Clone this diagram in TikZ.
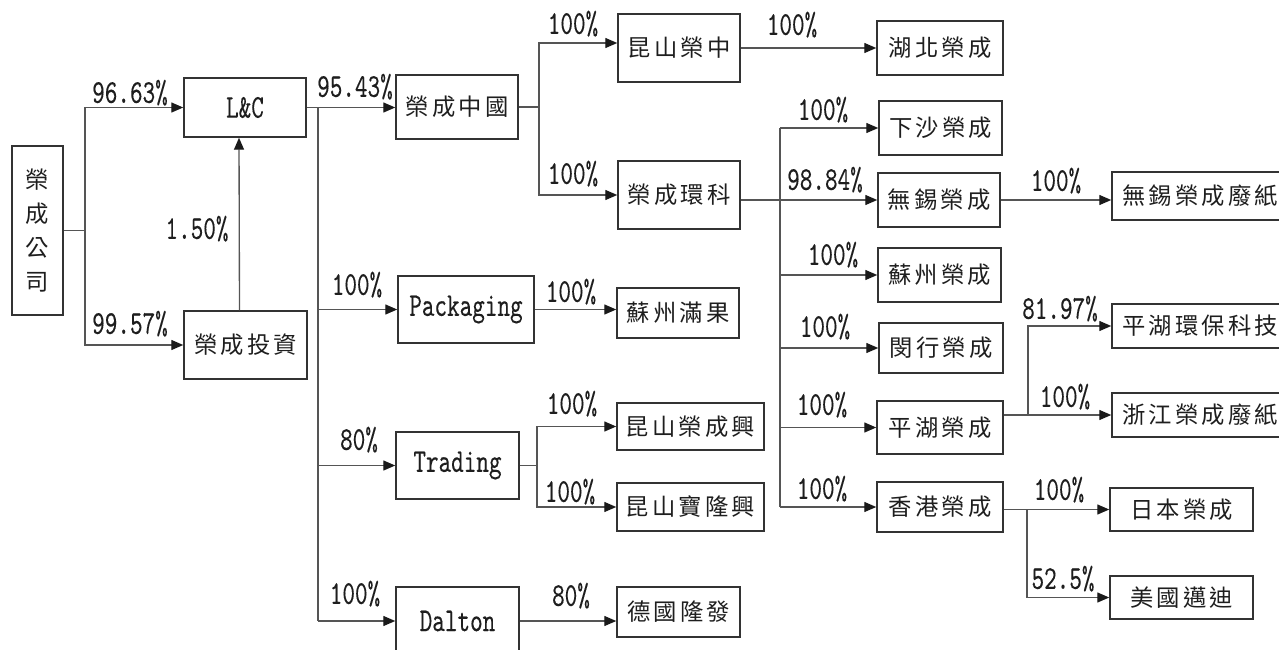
\documentclass[tikz,border=0pt]{standalone}
\usepackage{fontspec}
\usetikzlibrary{arrows.meta}
\newfontfamily\cjk{Noto Sans CJK TC}
\newfontfamily\lat{lmmono10-regular}[Extension=.otf,FakeStretch=0.72,FakeBold=0.15]
\definecolor{boxc}{HTML}{333333}
\definecolor{linec}{HTML}{555555}
\definecolor{tipc}{HTML}{1A1A1A}
\definecolor{txtc}{HTML}{1E1E1E}
\makeatletter
\def\sptext#1{\sptext@i#1\relax}
\def\sptext@i#1#2{#1\ifx\relax#2\else\kern2.4pt\expandafter\sptext@i\expandafter#2\fi}
\makeatother
\tikzset{
  box/.style={draw=boxc, line width=1.1pt, inner sep=0pt, align=center, text=txtc},
  cj/.style={font=\cjk\fontsize{17.5}{20}\selectfont},
  lt/.style={font=\lat\fontsize{25}{27}\selectfont},
  ln/.style={draw=linec, line width=1pt},
  arr/.style={ln, -{Triangle[length=9pt,width=7.5pt,color=tipc]}},
  pct/.style={lt, inner sep=0pt, text=txtc, yshift=2.5pt}
}
\newcommand\cbx[6]{\node[box,cj,minimum width={(#4-#2)*0.75pt},minimum height={(#5-#3)*0.75pt}] (#1) at ({(#2+#4)/2},{(#3+#5)/2}) {\sptext{#6}};}
\newcommand\lbx[6]{\node[box,lt,minimum width={(#4-#2)*0.75pt},minimum height={(#5-#3)*0.75pt}] (#1) at ({(#2+#4)/2},{(#3+#5)/2}) {#6};}
\newcommand\lab[4]{\node[pct] (#1) at (#2,#3) {#4};}
\begin{document}
\begin{tikzpicture}[x=0.75pt,y=-0.75pt]
\useasboundingbox (0,0) rectangle (1279,650);
\clip (0,0) rectangle (1279,650);
% boxes
\node[box,font=\cjk\fontsize{17.5}{25.5}\selectfont,minimum width=38.25pt,minimum height=126.75pt] (gs) at (37.5,230.5) {榮\\成\\公\\司};
\lbx{lc}{184}{78}{306}{137}{L\&C}
\cbx{tz}{184}{311}{307}{379}{榮成投資}
\cbx{zg}{396}{75}{518}{139}{榮成中國}
\cbx{ksz}{618}{14}{740}{82}{昆山榮中}
\cbx{hkk}{618}{161}{740}{229}{榮成環科}
\cbx{hb}{877}{21}{1003}{75}{湖北榮成}
\cbx{xs}{879}{101}{1002}{155}{下沙榮成}
\cbx{wx}{878}{173}{1000}{227}{無錫榮成}
\cbx{wxf}{1112}{172}{1288}{220}{無錫榮成廢紙}
\cbx{sz}{878}{248}{1001}{302}{蘇州榮成}
\cbx{mh}{879}{323}{1003}{373}{閔行榮成}
\cbx{ph}{877}{401}{1003}{454}{平湖榮成}
\cbx{hk}{877}{482}{1003}{532}{香港榮成}
\cbx{phk}{1112}{304}{1288}{348}{平湖環保科技}
\cbx{zj}{1112}{393}{1288}{437}{浙江榮成廢紙}
\cbx{jp}{1110}{488}{1253}{531}{日本榮成}
\cbx{us}{1110}{576}{1253}{619}{美國邁迪}
\lbx{pk}{398}{276}{534}{343}{Packaging}
\cbx{szm}{617}{288}{739}{338}{蘇州滿果}
\lbx{tr}{396}{432}{519}{499}{Trading}
\cbx{ksx}{617}{403}{764}{450}{昆山榮成興}
\cbx{ksb}{617}{483}{764}{531}{昆山寶隆興}
\lbx{dt}{396}{587}{519}{655}{Dalton}
\cbx{dg}{617}{587}{740}{637}{德國隆發}
% bus positions
\coordinate (b1) at (85,0);
\coordinate (b2) at (318,0);
\coordinate (b3) at (539,0);
\coordinate (b4) at (780,0);
\coordinate (b5) at (1028,0);
\coordinate (b6) at (1027,0);
\coordinate (b7) at (537,0);
% connectors
\draw[ln] (gs.east) -- (gs.east -| b1);
\draw[arr] (gs.east -| b1) |- (lc.west);
\draw[arr] (gs.east -| b1) |- (tz.west);
\draw[arr] ([xshift=-4.5pt]tz.north) -- ([xshift=-4.5pt]lc.south);
\draw[arr] (lc.east) -- (lc.east -| zg.west);
\draw[ln] (lc.east -| b2) -- (b2 |- dt.west);
\draw[arr] (b2 |- pk.west) -- (pk.west);
\draw[arr] (b2 |- tr.west) -- (tr.west);
\draw[arr] (b2 |- dt.west) -- (dt.west);
\draw[ln] (zg.east) -- (zg.east -| b3);
\draw[arr] (zg.east -| b3) |- ([yshift=3.75pt]ksz.west);
\draw[arr] (zg.east -| b3) |- (hkk.west);
\draw[arr] (ksz.east) -- (ksz.east -| hb.west);
\draw[arr] (hkk.east |- wx.west) -- (wx.west);
\draw[ln] (b4 |- xs.west) -- (b4 |- hk.west);
\foreach \n in {xs,sz,mh,ph,hk} \draw[arr] (b4 |- \n.west) -- (\n.west);
\draw[arr] (wx.east) -- (wx.east -| wxf.west);
\draw[arr] (ph.east |- zj.west) -- (zj.west);
\draw[arr] (b5 |- zj.west) |- (phk.west);
\draw[arr] (hk.east |- jp.west) -- (jp.west);
\draw[arr] (b6 |- jp.west) |- (us.west);
\draw[arr] (pk.east) -- (pk.east -| szm.west);
\draw[ln] (tr.east) -- (tr.east -| b7);
\draw[arr] (tr.east -| b7) |- (ksx.west);
\draw[arr] (tr.east -| b7) |- (ksb.west);
\draw[arr] (dt.east) -- (dt.east -| dg.west);
% labels
\lab{l1}{130}{96}{96.63\%}
\lab{l2}{130}{327}{99.57\%}
\lab{l3}{197}{232}{1.50\%}
\lab{l4}{355}{90}{95.43\%}
\lab{l5}{573}{27}{100\%}
\lab{l6}{573}{177}{100\%}
\lab{l7}{792}{28}{100\%}
\lab{l8}{823}{113}{100\%}
\lab{l9}{825}{183}{98.84\%}
\lab{l10}{1056}{184}{100\%}
\lab{l11}{833}{258}{100\%}
\lab{l12}{825}{330}{100\%}
\lab{l13}{822}{408}{100\%}
\lab{l14}{822}{492}{100\%}
\lab{l15}{1060}{312}{81.97\%}
\lab{l16}{1065}{400}{100\%}
\lab{l17}{1059}{493}{100\%}
\lab{l18}{1063}{582}{52.5\%}
\lab{l19}{357}{288}{100\%}
\lab{l20}{571}{295}{100\%}
\lab{l21}{359}{443}{80\%}
\lab{l22}{572}{407}{100\%}
\lab{l23}{570}{495}{100\%}
\lab{l24}{355}{597}{100\%}
\lab{l25}{571}{599}{80\%}
\end{tikzpicture}
\end{document}
